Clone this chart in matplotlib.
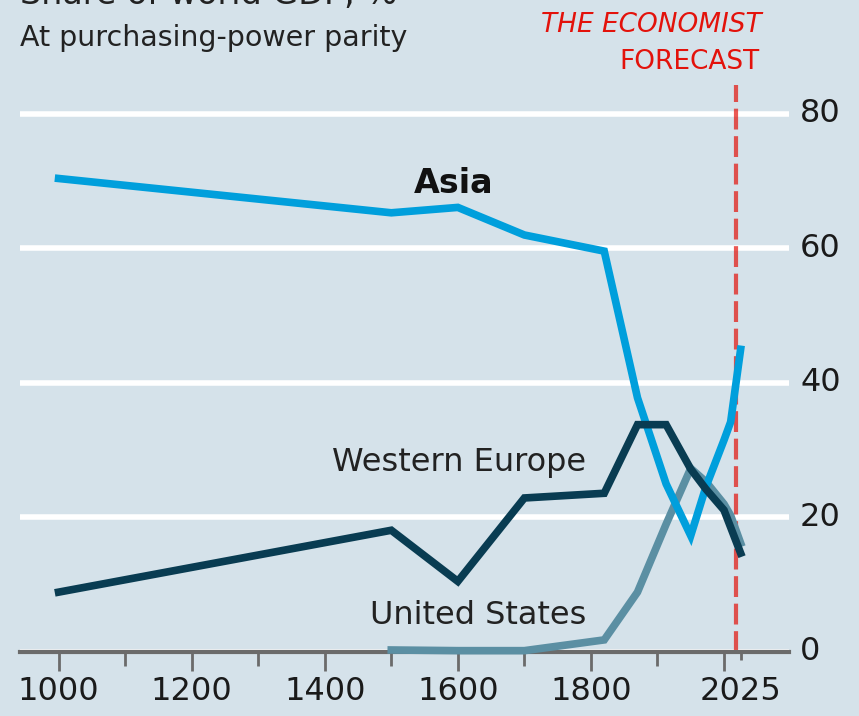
import matplotlib
matplotlib.use("Agg")
import matplotlib.pyplot as plt

# share of world GDP, % (at PPP)
asia_years = [1000, 1500, 1600, 1700, 1820, 1870, 1913, 1950, 1973, 2000, 2010, 2025]
asia = [70.4, 65.3, 66.1, 62.0, 59.6, 37.8, 25.0, 17.3, 24.6, 31.5, 34.2, 45.0]

weur_years = [1000, 1500, 1600, 1700, 1820, 1870, 1913, 1950, 1973, 2000, 2025]
weur = [8.9, 18.1, 10.5, 22.9, 23.6, 33.8, 33.8, 27.2, 24.2, 21.1, 14.7]

us_years = [1500, 1600, 1700, 1820, 1870, 1913, 1950, 1973, 2000, 2010, 2025]
us = [0.3, 0.2, 0.2, 1.8, 8.9, 19.0, 27.3, 25.3, 22.0, 20.3, 16.2]

forecast_year = 2018
xtick_years = [1000, 1200, 1400, 1600, 1800, 2000, 2025]
xtick_labels = ["1000", "1200", "1400", "1600", "1800", "", "2025"]
minor_years = [1100, 1300, 1500, 1700, 1900]
yticks = [0, 20, 40, 60, 80]

BG = "#d5e2ea"
C_ASIA = "#009fdc"
C_WEUR = "#093c52"
C_US = "#5b8fa3"
RED = "#e3120b"

plt.rcParams["font.family"] = ["DejaVu Sans"]

fig = plt.figure(figsize=(8.59, 7.16), dpi=100, facecolor=BG)
ax = fig.add_axes([20/859, 64/716, 769/859, 567/716])
ax.set_facecolor(BG)

ax.set_xlim(942, 2097.7)
ax.set_ylim(0, 84.3)

ax.grid(axis="y", color="white", lw=4)
ax.set_axisbelow(True)
for s in ["top", "left", "right"]:
    ax.spines[s].set_visible(False)
ax.spines["bottom"].set_color("#6b6b6b")
ax.spines["bottom"].set_linewidth(3)

ax.axvline(forecast_year, color=RED, lw=3, ls=(0, (5, 1.6)), alpha=0.7, zorder=1)

ax.plot(us_years, us, color=C_US, lw=5.5, solid_joinstyle="miter", clip_on=False, zorder=3)
ax.plot(asia_years, asia, color=C_ASIA, lw=5.5, solid_joinstyle="miter", clip_on=False, zorder=4)
ax.plot(weur_years, weur, color=C_WEUR, lw=5.5, solid_joinstyle="miter", clip_on=False, zorder=5)

ax.set_xticks(xtick_years)
ax.set_xticklabels(xtick_labels)
ax.set_xticks(minor_years, minor=True)
ax.tick_params(axis="x", which="major", length=14, width=2, color="#6b6b6b",
               labelsize=23, pad=3, labelcolor="#1a1a1a")
ax.tick_params(axis="x", which="minor", length=10, width=2, color="#6b6b6b")
ax.xaxis.get_major_ticks()[-1].tick1line.set_markersize(6)

ax.yaxis.tick_right()
ax.set_yticks(yticks)
ax.tick_params(axis="y", length=0, labelsize=23, pad=8, labelcolor="#1a1a1a")
for lab in ax.get_yticklabels():
    lab.set_verticalalignment("center")

ax.text(1593, 69.7, "Asia", fontsize=24, fontweight="bold", ha="center", va="center", color="#111111")
ax.text(1602, 28.1, "Western Europe", fontsize=23, ha="center", va="center", color="#222222")
ax.text(1630, 5.5, "United States", fontsize=23, ha="center", va="center", color="#222222")

# title sits mostly above the crop, as in the reference
fig.text(20/859, 1 - 4/716, "Share of world GDP, %", fontsize=24, ha="left", va="baseline", color="#222222")
fig.text(20/859, 1 - 38/716, "At purchasing-power parity", fontsize=20.5, ha="left", va="center", color="#222222")
fig.text(762/859, 1 - 25/716, "THE ECONOMIST", fontsize=19, style="italic", ha="right", va="center", color=RED)
fig.text(760/859, 1 - 62/716, "FORECAST", fontsize=19, ha="right", va="center", color=RED)

fig.savefig("out.png", dpi=100, facecolor=BG)
